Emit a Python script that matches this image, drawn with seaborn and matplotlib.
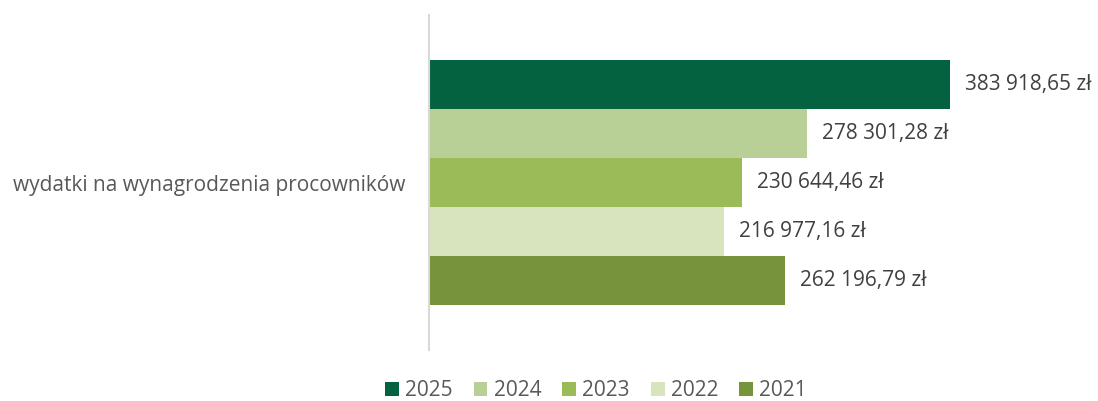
import matplotlib
matplotlib.use("Agg")
import matplotlib.pyplot as plt
import seaborn as sns
import pandas as pd
from matplotlib.patches import Patch

category = ["wydatki na wynagrodzenia procowników"]
years = ["2025", "2024", "2023", "2022", "2021"]
values = [383918.65, 278301.28, 230644.46, 216977.16, 262196.79]
colors = ["#046241", "#B8CF96", "#9BBB59", "#D7E4BD", "#77933C"]

df = pd.DataFrame({"cat": category * len(years), "year": years, "value": values})

sns.set_theme(style="white")
plt.rcParams["font.family"] = ["Open Sans", "DejaVu Sans"]

fig = plt.figure(figsize=(10.98, 4.01), dpi=100)
ax = fig.add_axes([429 / 1098, 1 - 350 / 401, (1067 - 429) / 1098, (350 - 15) / 401])

sns.barplot(data=df, y="cat", x="value", hue="year", hue_order=years,
            palette=colors, orient="h", width=0.73, ax=ax, legend=False,
            saturation=1, linewidth=0)

ax.set_xlim(0, 470000)
ax.set_ylim(0.5, -0.5)
ax.set_xlabel("")
ax.set_ylabel("")
ax.set_xticks([])
for s in ["top", "right", "bottom"]:
    ax.spines[s].set_visible(False)
ax.spines["left"].set_color("#D9D9D9")
ax.spines["left"].set_linewidth(1.5)
ax.tick_params(axis="y", length=0, pad=17, labelsize=15, labelcolor="#595959")

def fmt(v):
    s = f"{v:,.2f}".replace(",", " ").replace(".", ",")
    return s + " zł"

for cont in ax.containers:
    ax.bar_label(cont, labels=[fmt(b.get_width()) for b in cont], padding=11,
                 fontsize=15, color="#404040")

handles = [Patch(facecolor=c, edgecolor="none", label=y) for c, y in zip(colors, years)]
fig.legend(handles=handles, loc="center", bbox_to_anchor=(596 / 1098, 1 - 391 / 401),
           ncol=5, frameon=False, fontsize=15, labelcolor="#595959",
           handlelength=0.67, handleheight=0.67, handletextpad=0.3, columnspacing=1.0)

fig.savefig("out.png", dpi=100)
